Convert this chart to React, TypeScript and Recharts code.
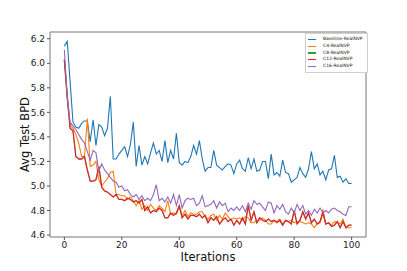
import React from 'react';
import { LineChart, Line, XAxis, YAxis, Legend, ReferenceArea } from 'recharts';

const ITERATIONS = Array.from({ length: 101 }, (_, i) => i);

const BASELINE = [
  6.14, 6.18, 5.85, 5.52, 5.48, 5.47, 5.51, 5.53, 5.53, 5.36,
  5.54, 5.33, 5.5, 5.48, 5.41, 5.47, 5.73, 5.22, 5.22, 5.26,
  5.29, 5.32, 5.24, 5.34, 5.52, 5.16, 5.33, 5.17, 5.24, 5.18,
  5.27, 5.35, 5.26, 5.29, 5.2, 5.37, 5.19, 5.29, 5.22, 5.43,
  5.19, 5.17, 5.2, 5.19, 5.24, 5.33, 5.26, 5.37, 5.22, 5.12,
  5.15, 5.15, 5.29, 5.17, 5.15, 5.13, 5.16, 5.18, 5.17, 5.1,
  5.18, 5.21, 5.14, 5.12, 5.23, 5.14, 5.22, 5.12, 5.13, 5.2,
  5.2, 5.06, 5.26, 5.09, 5.11, 5.08, 5.21, 5.11, 5.1, 5.03,
  5.05, 5.07, 5.15, 5.1, 5.07, 5.14, 5.28, 5.14, 5.18, 5.09,
  5.12, 5.05, 5.13, 5.14, 5.25, 5.07, 5.08, 5.03, 5.06, 5.02,
  5.02,
];

const C4 = [
  6.03, 5.75, 5.5, 5.47, 5.42, 5.35, 5.24, 5.24, 5.55, 5.16,
  5.17, 5.2, 5.05, 5.0, 5.03, 5.06, 5.11, 5.12, 4.93, 4.93,
  4.92, 4.92, 4.89, 4.91, 4.88, 4.84, 4.88, 4.81, 4.84, 4.8,
  4.85, 4.82, 4.8, 4.84, 4.82, 4.79, 4.88, 4.77, 4.78, 4.77,
  4.83, 4.76, 4.8, 4.75, 4.78, 4.77, 4.77, 4.79, 4.79, 4.75,
  4.73, 4.76, 4.77, 4.72, 4.76, 4.73, 4.78, 4.75, 4.72, 4.74,
  4.73, 4.74, 4.72, 4.75, 4.74, 4.7, 4.7, 4.72, 4.72, 4.74,
  4.72, 4.69, 4.69, 4.72, 4.71, 4.73, 4.69, 4.72, 4.71, 4.72,
  4.7, 4.71, 4.71, 4.7, 4.69, 4.7, 4.69, 4.66, 4.69, 4.7,
  4.81, 4.69, 4.7, 4.68, 4.71, 4.7, 4.69, 4.73, 4.66, 4.66,
  4.66,
];

const C12 = [
  6.03, 5.72, 5.47, 5.45, 5.24, 5.22, 5.22, 5.24, 5.13, 5.04,
  5.04, 5.05, 5.16, 4.99, 4.96, 4.95, 4.93, 4.91, 4.93, 4.89,
  4.89, 4.88, 4.9, 4.89, 4.87, 4.88, 4.86, 4.89, 4.8, 4.83,
  4.78, 4.8, 4.79, 4.82, 4.8, 4.74, 4.74, 4.78, 4.76, 4.78,
  4.84, 4.74, 4.77, 4.73, 4.76, 4.76, 4.75, 4.77, 4.74, 4.76,
  4.7, 4.74, 4.72, 4.75, 4.69, 4.72, 4.74, 4.71, 4.73, 4.68,
  4.72, 4.69, 4.74, 4.69, 4.84, 4.72, 4.79, 4.7, 4.74, 4.72,
  4.71, 4.73, 4.71, 4.72, 4.7, 4.72, 4.68, 4.72, 4.71, 4.69,
  4.8, 4.69, 4.72, 4.79, 4.73, 4.78, 4.7, 4.73, 4.69, 4.71,
  4.78, 4.69, 4.7, 4.67, 4.68, 4.71, 4.66, 4.71, 4.66, 4.68,
  4.68,
];

// C8 sits exactly underneath C12 in the figure
const C8 = C12;

const C16 = [
  6.11, 5.72, 5.52, 5.49, 5.46, 5.42, 5.38, 5.35, 5.28, 5.21,
  5.29, 5.27, 5.12, 5.18, 5.13, 5.1, 5.07, 5.04, 5.03, 4.99,
  5.0, 4.96, 4.97, 4.93, 4.91, 4.93, 4.89, 4.92, 4.88, 4.9,
  4.88, 4.93, 5.01, 4.88, 4.9, 4.87, 4.91, 4.86, 4.93, 4.84,
  4.93, 4.82, 4.88, 4.9, 4.89, 4.9, 4.84, 4.86, 4.92, 4.83,
  4.84, 4.85, 4.88, 4.82, 4.87, 4.84, 4.86, 4.79, 4.82, 4.8,
  4.83, 4.8, 4.84, 4.79, 4.86, 4.81, 4.88, 4.85, 4.86, 4.83,
  4.8, 4.87, 4.86, 4.78, 4.84, 4.81, 4.85, 4.79, 4.77, 4.82,
  4.78, 4.85, 4.8, 4.84, 4.77, 4.8, 4.76, 4.81, 4.78, 4.82,
  4.78, 4.8, 4.78, 4.81, 4.82, 4.8, 4.79, 4.77, 4.76, 4.83,
  4.83,
];

const X_TICKS = [0, 20, 40, 60, 80, 100];
const Y_TICKS = [4.6, 4.8, 5.0, 5.2, 5.4, 5.6, 5.8, 6.0, 6.2];
const Y_DOMAIN: [number, number] = [4.584, 6.255];

const SERIES = [
  { key: 'baseline', name: 'Baseline-RealNVP', color: '#1f77b4', values: BASELINE, width: 1.1 },
  { key: 'c4', name: 'C4-RealNVP', color: '#ff7f0e', values: C4, width: 1.1 },
  { key: 'c8', name: 'C8-RealNVP', color: '#2ca02c', values: C8, width: 0.6 },
  { key: 'c12', name: 'C12-RealNVP', color: '#d62728', values: C12, width: 1.3 },
  { key: 'c16', name: 'C16-RealNVP', color: '#9467bd', values: C16, width: 1.1 },
];

const data = ITERATIONS.map((it, i) => {
  const row: any = { it };
  SERIES.forEach((s) => {
    row[s.key] = s.values[i];
  });
  return row;
});

const LegendBox = () => (
  <div
    style={{
      border: '1px solid #d0d0d0',
      background: '#fff',
      padding: '2px 4px 2px 2px',
      fontSize: 4.5,
      lineHeight: '6.8px',
      color: '#111',
      fontFamily: 'DejaVu Sans',
    }}
  >
    {SERIES.map((s) => (
      <div key={s.key} style={{ display: 'flex', alignItems: 'center', whiteSpace: 'nowrap' }}>
        <span style={{ display: 'inline-block', width: 8, height: 1.2, background: s.color, marginRight: 7 }} />
        {s.name}
      </div>
    ))}
  </div>
);

export default function App() {
  return (
    <div style={{ position: 'absolute', left: 0, top: 0, background: '#fff' }}>
      <LineChart
        width={407}
        height={271}
        data={data}
        margin={{ top: 32, right: 41, bottom: 0, left: 0 }}
        style={{ fontFamily: 'DejaVu Sans' }}
      >
        <XAxis
          dataKey="it"
          type="number"
          domain={[-5, 105]}
          ticks={X_TICKS}
          height={34}
          tickSize={3}
          tickMargin={2}
          axisLine={false}
          tickLine={{ stroke: '#555' }}
          tick={{ fontSize: 9, fill: '#222' }}
          label={{ value: 'Iterations', position: 'insideBottom', offset: 10, fontSize: 11.5, fill: '#111' }}
        />
        <YAxis
          type="number"
          domain={Y_DOMAIN}
          allowDataOverflow
          ticks={Y_TICKS}
          width={50}
          tickSize={3}
          tickMargin={2}
          axisLine={false}
          tickLine={{ stroke: '#555' }}
          tick={{ fontSize: 9, fill: '#222' }}
          tickFormatter={(v: number) => v.toFixed(1)}
          label={{
            value: 'Avg Test BPD',
            angle: -90,
            position: 'insideLeft',
            offset: 25,
            fontSize: 11.5,
            fill: '#111',
            style: { textAnchor: 'middle' },
          }}
        />
        <ReferenceArea
          x1={-5}
          x2={105}
          y1={Y_DOMAIN[0]}
          y2={Y_DOMAIN[1]}
          fill="none"
          stroke="#777"
          strokeWidth={1}
          ifOverflow="visible"
        />
        {SERIES.map((s) => (
          <Line
            key={s.key}
            dataKey={s.key}
            name={s.name}
            stroke={s.color}
            strokeWidth={s.width}
            dot={false}
            isAnimationActive={false}
          />
        ))}
        <Legend
          layout="vertical"
          align="center"
          verticalAlign="middle"
          content={LegendBox}
          wrapperStyle={{ left: 305, top: 33, width: 'auto' }}
        />
      </LineChart>
    </div>
  );
}
